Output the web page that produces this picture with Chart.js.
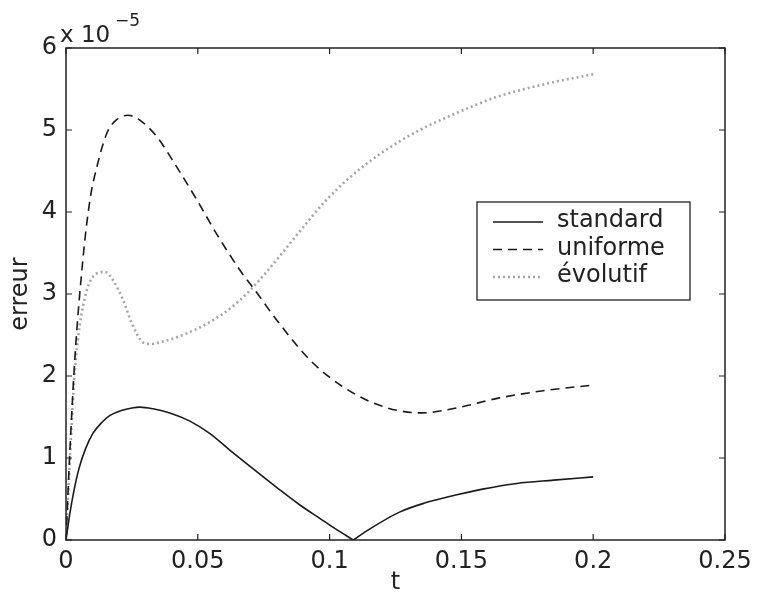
<!DOCTYPE html>
<html>
<head>
<meta charset="utf-8">
<script src="https://cdn.jsdelivr.net/npm/chart.js@4/dist/chart.umd.min.js"></script>
<style>
  html, body { margin: 0; padding: 0; background: #fff; }
  #wrap { width: 761px; height: 597px; }
</style>
</head>
<body>
<div id="wrap"><canvas id="c" width="761" height="597"></canvas></div>
<script>
// ---------- DATA (values in units of 1e-5) ----------
// standard is split at its zero crossing so the V stays sharp
const tStandardA = [0, 0.0015, 0.003, 0.005, 0.0075, 0.0102, 0.0135, 0.0167, 0.021, 0.025, 0.028, 0.033, 0.0394, 0.047, 0.0545, 0.062, 0.0697, 0.08, 0.0886, 0.096, 0.103, 0.109];
const vStandardA = [0, 0.33, 0.60, 0.88, 1.12, 1.30, 1.43, 1.52, 1.58, 1.61, 1.62, 1.60, 1.55, 1.45, 1.30, 1.10, 0.90, 0.64, 0.43, 0.27, 0.12, 0.0];
const tStandardB = [0.109, 0.115, 0.1265, 0.136, 0.1455, 0.158, 0.171, 0.185, 0.2];
const vStandardB = [0.0, 0.13, 0.34, 0.45, 0.53, 0.62, 0.69, 0.73, 0.77];

const tUniforme = [0, 0.0015, 0.0034, 0.0065, 0.0091, 0.0117, 0.0155, 0.019, 0.0235, 0.028, 0.0344, 0.042, 0.0496, 0.057, 0.066, 0.0716, 0.08, 0.0924, 0.105, 0.12, 0.135, 0.148, 0.164, 0.181, 0.2];
const vUniforme = [0, 1.1, 2.23, 3.45, 4.15, 4.55, 4.96, 5.12, 5.18, 5.12, 4.92, 4.55, 4.15, 3.74, 3.29, 3.05, 2.68, 2.20, 1.87, 1.63, 1.55, 1.61, 1.73, 1.82, 1.89];

const tEvolutif = [0, 0.0015, 0.003, 0.0045, 0.0072, 0.0102, 0.0148, 0.0178, 0.0216, 0.025, 0.0292, 0.032, 0.0356, 0.0458, 0.0557, 0.0648, 0.072, 0.08, 0.0886, 0.098, 0.1076, 0.117, 0.1265, 0.136, 0.1455, 0.155, 0.164, 0.183, 0.2];
const vEvolutif = [0, 1.0, 1.9, 2.44, 2.96, 3.21, 3.27, 3.17, 2.93, 2.64, 2.41, 2.39, 2.41, 2.52, 2.68, 2.89, 3.12, 3.42, 3.76, 4.12, 4.42, 4.66, 4.86, 5.03, 5.17, 5.30, 5.41, 5.57, 5.68];

const seriesNames = ["standard", "uniforme", "évolutif"];
const xTicks = [0, 0.05, 0.1, 0.15, 0.2, 0.25];
const yTicks = [0, 1, 2, 3, 4, 5, 6];

const toPts = (ts, vs) => ts.map((t, i) => ({ x: t, y: vs[i] }));
const FONT = "'DejaVu Sans', sans-serif";

const solid = { borderColor: "#1a1a1a", borderWidth: 1.6 };
const dashed = { borderColor: "#1a1a1a", borderWidth: 1.6, borderDash: [9, 6] };
const dotted = { borderColor: "#a6a6a6", borderWidth: 2.6, borderDash: [2, 3] };

// ---------- FRAME, INNER TICKS, EXPONENT, LEGEND ----------
const matlabBox = {
  id: "matlabBox",
  afterDraw(chart) {
    const { ctx, chartArea: a, scales: { x, y } } = chart;
    ctx.save();
    ctx.strokeStyle = "#222";
    ctx.lineWidth = 1.5;
    ctx.strokeRect(a.left, a.top, a.right - a.left, a.bottom - a.top);

    ctx.lineWidth = 1.2;
    ctx.beginPath();
    xTicks.forEach(v => {
      const px = x.getPixelForValue(v);
      ctx.moveTo(px, a.bottom); ctx.lineTo(px, a.bottom - 6);
      ctx.moveTo(px, a.top); ctx.lineTo(px, a.top + 6);
    });
    yTicks.forEach(v => {
      const py = y.getPixelForValue(v);
      ctx.moveTo(a.left, py); ctx.lineTo(a.left + 6, py);
      ctx.moveTo(a.right, py); ctx.lineTo(a.right - 6, py);
    });
    ctx.stroke();

    // x 10^-5
    ctx.fillStyle = "#222";
    ctx.textBaseline = "alphabetic";
    ctx.textAlign = "left";
    ctx.font = "23px " + FONT;
    ctx.fillText("x 10", 60, 42);
    ctx.font = "17px " + FONT;
    ctx.fillText("\u22125", 115, 26);

    // legend
    const lx = 477, ly = 202, lw = 213, lh = 98;
    ctx.fillStyle = "#fff";
    ctx.fillRect(lx, ly, lw, lh);
    ctx.strokeStyle = "#222";
    ctx.lineWidth = 1.3;
    ctx.strokeRect(lx, ly, lw, lh);
    ctx.font = "24px " + FONT;
    ctx.textBaseline = "middle";
    [solid, dashed, dotted].forEach((st, i) => {
      const ry = 222 + i * 27.5;
      ctx.strokeStyle = st.borderColor;
      ctx.lineWidth = st.borderWidth;
      ctx.setLineDash(st.borderDash || []);
      ctx.beginPath();
      ctx.moveTo(493, ry); ctx.lineTo(543, ry);
      ctx.stroke();
      ctx.setLineDash([]);
      ctx.fillStyle = "#222";
      ctx.fillText(seriesNames[i], 557, ry - 1);
    });
    ctx.restore();
  }
};

new Chart(document.getElementById("c"), {
  type: "line",
  data: {
    datasets: [
      { label: seriesNames[0], data: toPts(tStandardA, vStandardA), ...solid },
      { label: seriesNames[0], data: toPts(tStandardB, vStandardB), ...solid },
      { label: seriesNames[1], data: toPts(tUniforme, vUniforme), ...dashed },
      { label: seriesNames[2], data: toPts(tEvolutif, vEvolutif), ...dotted }
    ]
  },
  options: {
    responsive: false,
    animation: false,
    devicePixelRatio: 1,
    layout: { padding: { left: 0, right: 36, top: 48, bottom: 0 } },
    elements: { point: { radius: 0 }, line: { cubicInterpolationMode: "monotone" } },
    plugins: { legend: { display: false }, tooltip: { enabled: false } },
    scales: {
      x: {
        type: "linear",
        min: 0, max: 0.25,
        afterFit: s => { s.height = 57; },
        afterBuildTicks: s => { s.ticks = xTicks.map(v => ({ value: v })); },
        grid: { display: false, drawTicks: false },
        border: { display: false },
        ticks: { padding: 7, color: "#222", font: { family: FONT, size: 24 }, callback: v => String(v) },
        title: { display: true, text: "t", color: "#222", font: { family: FONT, size: 24 }, padding: { top: 0, bottom: 0 } }
      },
      y: {
        type: "linear",
        min: 0, max: 6,
        afterFit: s => { s.width = 66; },
        afterBuildTicks: s => { s.ticks = yTicks.map(v => ({ value: v })); },
        grid: { display: false, drawTicks: false },
        border: { display: false },
        ticks: { padding: 9, color: "#222", font: { family: FONT, size: 24 } },
        title: { display: true, text: "erreur", color: "#222", font: { family: FONT, size: 24 }, padding: { top: 6, bottom: 0 } }
      }
    }
  },
  plugins: [matlabBox]
});
</script>
</body>
</html>
